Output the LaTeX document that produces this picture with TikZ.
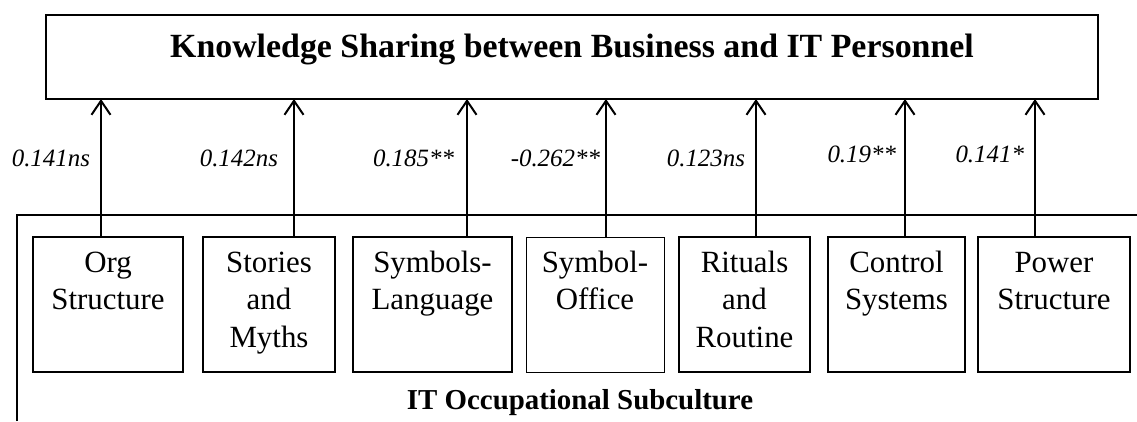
\documentclass[tikz,border=0pt]{standalone}
\usepackage{fontspec}
\setmainfont{Liberation Serif}
\usetikzlibrary{arrows.meta, positioning}
\newcommand{\lines}[1]{\begin{tabular}[t]{@{}c@{}}#1\end{tabular}}
\tikzset{
  line/.style={draw=black, line width=2bp},
  arrow/.style={draw=black, line width=2bp, -{Straight Barb[length=14bp, width=19bp]}},
  topbox/.style={draw=black, line width=2bp, rectangle, outer sep=0pt, minimum width=1052bp, align=center, font=\fontsize{34}{40}\selectfont\bfseries, text height=24bp, text depth=24bp, inner ysep=18bp},
  block/.style={draw=black, line width=2bp, rectangle, outer sep=0pt, font=\fontsize{31}{38}\selectfont, text height=22bp, text depth=87bp, inner ysep=13bp, inner xsep=2bp},
  coef/.style={font=\fontsize{25}{28}\selectfont\itshape, inner sep=2bp},
  caption/.style={font=\fontsize{29}{34}\selectfont\bfseries}
}

\begin{document}
\begin{tikzpicture}[x=1bp, y=-1bp]
  \useasboundingbox (0,0) rectangle (1137,421);
  \node [topbox, anchor=north] (ks) at (572,15) {Knowledge Sharing between Business and IT Personnel};

  \draw [line] (17,421) -- (17,215) -- (1137,215);

  \node [block, anchor=north west, minimum width=150bp] (org) at (33,237) {\lines{Org\\Structure}};
  \node [block, right=20bp of org, minimum width=132bp] (story) {\lines{Stories\\and\\Myths}};
  \node [block, right=18bp of story, minimum width=159bp] (lang) {\lines{Symbols-\\Language}};
  \node [block, right=14bp of lang, minimum width=138bp, line width=1bp] (office) {\lines{Symbol-\\Office}};
  \node [block, right=15bp of office, minimum width=131bp] (ritual) {\lines{Rituals\\and\\Routine}};
  \node [block, right=18bp of ritual, minimum width=137bp] (control) {\lines{Control\\Systems}};
  \node [block, right=13bp of control, minimum width=152bp] (power) {\lines{Power\\Structure}};

  \node [caption] (sub) at (580,403) {IT Occupational Subculture};

  \draw [arrow] ([xshift=-7bp]org.north) -- ([xshift=-7bp]org.north |- ks.south) node [coef, pos=0.57, left=8bp] (c1) {0.141ns};
  \draw [arrow] ([xshift=25bp]story.north) -- ([xshift=25bp]story.north |- ks.south) node [coef, pos=0.57, left=13bp] (c2) {0.142ns};
  \draw [arrow] ([xshift=34.5bp]lang.north) -- ([xshift=34.5bp]lang.north |- ks.south) node [coef, pos=0.57, left=10bp] (c3) {0.185**};
  \draw [arrow] ([xshift=11bp]office.north) -- ([xshift=11bp]office.north |- ks.south) node [coef, pos=0.57, left=3bp] (c4) {-0.262**};
  \draw [arrow] ([xshift=11.5bp]ritual.north) -- ([xshift=11.5bp]ritual.north |- ks.south) node [coef, pos=0.57, left=8bp] (c5) {0.123ns};
  \draw [arrow] ([xshift=8.5bp]control.north) -- ([xshift=8.5bp]control.north |- ks.south) node [coef, pos=0.6, left=6bp] (c6) {0.19**};
  \draw [arrow] ([xshift=-19bp]power.north) -- ([xshift=-19bp]power.north |- ks.south) node [coef, pos=0.6, left=8bp] (c7) {0.141*};
\end{tikzpicture}
\end{document}
